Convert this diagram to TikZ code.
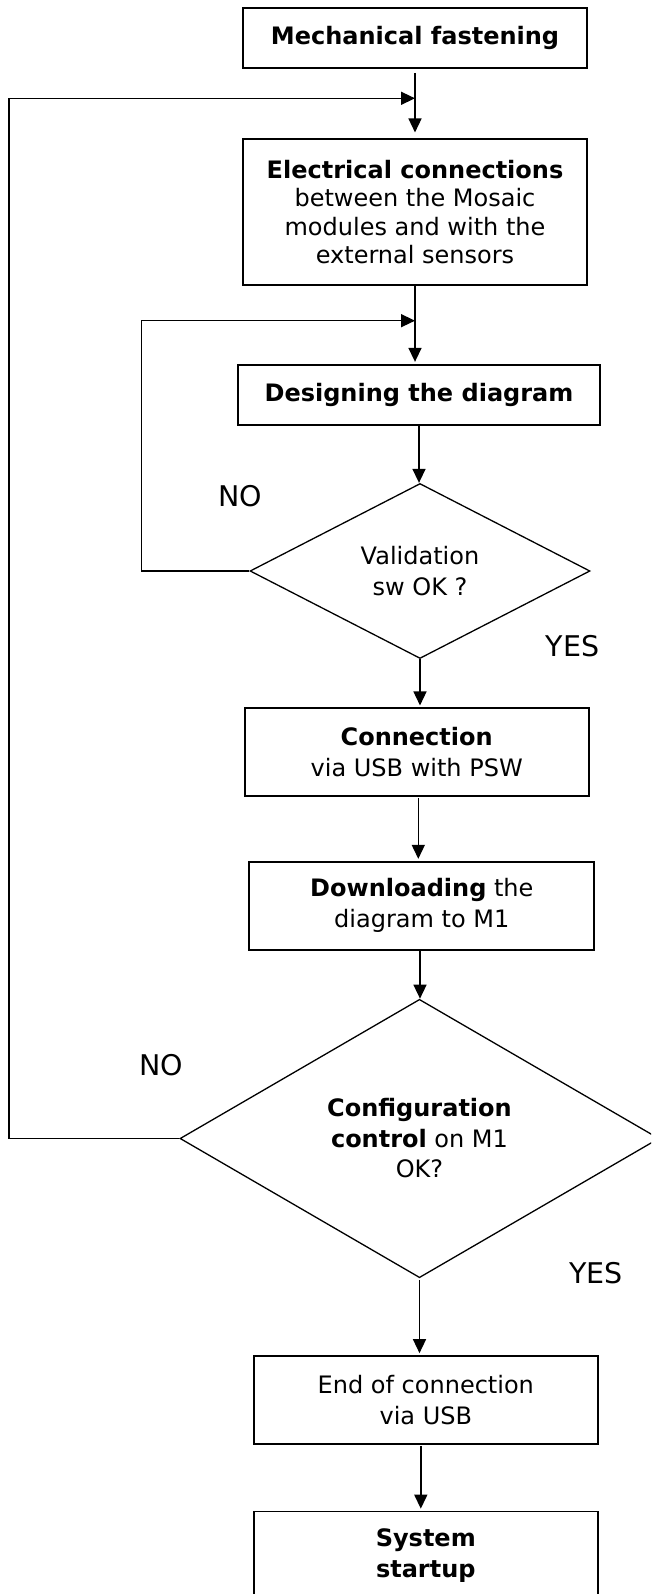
\documentclass[tikz,border=0pt]{standalone}
\usepackage{fontspec}
\setmainfont{DejaVu Sans}
\usetikzlibrary{shapes.geometric,arrows.meta}
\begin{document}
\begin{tikzpicture}[x=1pt,y=-1pt,
  box/.style={draw, line width=1.7pt, rectangle, inner sep=0pt, align=center,
    font=\fontsize{24}{31}\selectfont},
  dia/.style={draw, line width=1.3pt, diamond, inner sep=0pt, align=center,
    font=\fontsize{24}{30.5}\selectfont},
  lbl/.style={inner sep=0pt, font=\fontsize{28.5}{30}\selectfont},
  conn/.style={line width=1.5pt, -{Triangle[length=14pt,width=13pt]}}
]
\clip (0,0) rectangle (651,1594);
\fill[white] (0,0) rectangle (651,1594);

\node[box, minimum width=344.6, minimum height=59.7] (mech) at (415,38.2) {\textbf{Mechanical fastening}};
\node[box, minimum width=344.6, minimum height=146, font=\fontsize{24}{28.5}\selectfont] (elec) at (415,212.3)
  {\textbf{Electrical connections}\\between the Mosaic\\modules and with the\\external sensors};
\node[box, minimum width=362, minimum height=60] (design) at (419,394.7) {\textbf{Designing the diagram}};
\node[dia, minimum width=340, minimum height=175, aspect=2] (d1) at (420,571) {Validation\\sw OK ?};
\node[box, minimum width=344, minimum height=88] (usb) at (416.7,752.3) {\textbf{Connection}\\via USB with PSW};
\node[box, minimum width=345, minimum height=88] (down) at (421.8,905.7) {\textbf{Downloading} the\\diagram to M1};
\node[dia, minimum width=479, minimum height=278.4, aspect=1.72] (d2) at (419.5,1138.5)
  {\textbf{Configuration}\\\textbf{control} on M1\\OK?};
\node[box, minimum width=344.3, minimum height=88] (endc) at (425.8,1400) {End of connection\\via USB};
\node[box, minimum width=344.3, minimum height=88] (sys) at (425.8,1555.5) {\textbf{System}\\\textbf{startup}};

\node[lbl] (no1) at (240.5,496) {NO};
\node[lbl] (yes1) at (572.5,646) {YES};
\node[lbl] (no2) at (161,1064.7) {NO};
\node[lbl] (yes2) at (596.3,1273) {YES};

\coordinate (y1) at (0,98.3);
\coordinate (y2) at (0,320.7);
\coordinate (xa) at (9,0);
\coordinate (xb) at (141.6,0);
\coordinate (j1) at (mech.south |- y1);
\coordinate (j2) at (elec.south |- y2);

\draw[conn, shorten <=4pt, shorten >=6pt] (mech.south) -- (mech.south |- elec.north);
\draw[conn, shorten >=2pt] (elec.south) -- (elec.south |- design.north);
\draw[conn] (design.south) -- (design.south |- d1.north);
\draw[conn, shorten >=2pt] (d1.south) -- (d1.south |- usb.north);
\draw[conn, shorten <=1pt, shorten >=2pt] ([xshift=1.6pt]usb.south) -- ([xshift=1.6pt]usb.south |- down.north);
\draw[conn] ([xshift=-1.8pt]down.south) -- ([xshift=-1.8pt]down.south |- d2.north);
\draw[conn, shorten <=2pt, shorten >=2pt] (d2.south) -- (d2.south |- endc.north);
\draw[conn, shorten <=1pt, shorten >=2pt] ([xshift=-5pt]endc.south) -- ([xshift=-5pt]endc.south |- sys.north);

\draw[conn] (d2.west) -- (xa |- d2.west) -- (xa |- j1) -- (j1);
\draw[conn] (d1.west) -- (xb |- d1.west) -- (xb |- j2) -- (j2);
\end{tikzpicture}
\end{document}
